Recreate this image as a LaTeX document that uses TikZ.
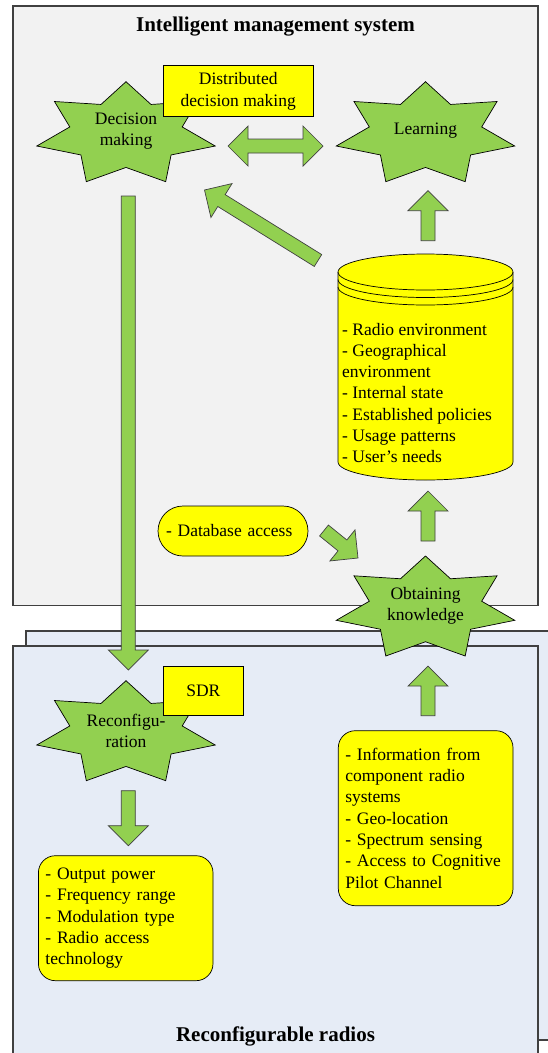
\documentclass[tikz,border=0pt]{standalone}
\usepackage{fontspec}
\setmainfont{Liberation Serif}
\usetikzlibrary{calc}
\definecolor{leaf}{HTML}{92D050}
\definecolor{lemon}{HTML}{FFFF00}
\definecolor{greybox}{HTML}{F2F2F2}
\definecolor{bluebox}{HTML}{E6ECF6}
\definecolor{rim}{HTML}{404040}
% seven pointed star round a named coordinate
\newcommand{\sevenstar}[1]{%
  \filldraw[starfill, shift={(#1)}] plot[samples at={0,...,13}]
    ({(0.815+0.185*cos(\x*180))*91.5*cos(-90+\x*360/14)},
     {(0.815+0.185*cos(\x*180))*52.6*sin(-90+\x*360/14)}) -- cycle;}
% block arrow from #1 to #2
\newcommand{\blockarrow}[2]{%
  \coordinate (hb) at ($(#2)!20pt!(#1)$);
  \filldraw[arrowfill] ($(#1)!7pt!90:(#2)$) -- ($(hb)!7pt!90:(#2)$) -- ($(hb)!20pt!90:(#2)$) -- (#2)
    -- ($(hb)!20pt!-90:(#2)$) -- ($(hb)!7pt!-90:(#2)$) -- ($(#1)!7pt!-90:(#2)$) -- cycle;}
\newcommand{\twinarrow}[2]{%
  \coordinate (ha) at ($(#1)!20pt!(#2)$);
  \coordinate (hb) at ($(#2)!20pt!(#1)$);
  \filldraw[arrowfill] (#1) -- ($(ha)!20pt!90:(#2)$) -- ($(ha)!7pt!90:(#2)$) -- ($(hb)!7pt!90:(#2)$)
    -- ($(hb)!20pt!90:(#2)$) -- (#2) -- ($(hb)!20pt!-90:(#2)$) -- ($(hb)!7pt!-90:(#2)$)
    -- ($(ha)!7pt!-90:(#2)$) -- ($(ha)!20pt!-90:(#2)$) -- cycle;}
\begin{document}
\begin{tikzpicture}[x=1pt, y=-1pt, font=\fontsize{17.5}{21.3}\selectfont,
  starfill/.style={fill=leaf, draw=black, line width=0.7pt},
  arrowfill/.style={fill=leaf, draw=rim, line width=0.7pt},
  notebox/.style={draw=black, fill=lemon, line width=0.7pt, align=center},
  listbox/.style={draw=black, fill=lemon, line width=0.7pt, align=left, rounded corners=17pt, inner xsep=7pt},
  panel/.style={draw=rim, line width=1.2pt},
  heading/.style={font=\fontsize{21}{25}\selectfont\bfseries, anchor=base}]
  \clip (0,0) rectangle (548,1053);
  % panels
  \filldraw[panel, fill=bluebox] (26,631) rectangle (570,1040);
  \filldraw[panel, fill=bluebox] (13,646) rectangle (538,1070);
  \filldraw[panel, fill=greybox] (13,6) rectangle (538,605.7);
  \node[heading] (ims) at (275.5,31) {Intelligent management system};
  \node[heading] (rr) at (275.5,1041.5) {Reconfigurable radios};
  % stars
  \coordinate (dmc) at (126,134.3);
  \coordinate (lnc) at (425.5,134.3);
  \coordinate (okc) at (425.5,608.6);
  \coordinate (rcc) at (126,733.3);
  \foreach \c in {dmc,lnc,okc,rcc} \sevenstar{\c};
  \node[align=center] (dm) at (126,131) {Decision\\making};
  \node (ln) at (425.5,131) {Learning};
  \node[align=center] (ok) at (425.5,606) {Obtaining\\knowledge};
  \node[align=center] (rc) at (126,731) {Reconfigu-\\ration};
  \node[notebox, minimum width=150.5pt, minimum height=51pt] (ddm) at (238.25,91.2) {Distributed\\decision making};
  \node[notebox, minimum width=80.6pt, minimum height=49.7pt] (sdr) at (203.3,690.85) {SDR};
  % database
  \filldraw[fill=lemon, draw=black, line width=0.7pt] (338,272) -- (338,462)
    arc[start angle=180, end angle=360, x radius=87.5pt, y radius=18pt] -- (513,272)
    arc[start angle=0, end angle=180, x radius=87.5pt, y radius=18pt] -- cycle;
  \foreach \d in {0,7.5,15}
    \draw[line width=0.7pt] (338,{272+\d}) arc[start angle=180, end angle=360, x radius=87.5pt, y radius=18pt];
  \node[anchor=west, align=left, inner sep=0pt] (db) at (342,393)
    {- Radio environment\\- Geographical\\environment\\- Internal state\\- Established policies\\- Usage patterns\\- User’s needs};
  \node[listbox, rounded corners=25pt, text width=134pt, inner xsep=8pt, minimum height=50pt] (dba) at (233,531) {- Database access};
  \node[listbox, text width=160.7pt, minimum height=175pt] (info) at (425.65,818.2)
    {- Information from\\component radio\\systems\\- Geo-location\\- Spectrum sensing\\- Access to Cognitive\\Pilot Channel};
  \node[listbox, text width=160.6pt, minimum height=125pt] (out) at (125.7,918.2)
    {- Output power\\- Frequency range\\- Modulation type\\- Radio access\\technology};
  % arrows
  \coordinate (dmE) at (228,146); \coordinate (lnW) at (323,146);
  \coordinate (dmS) at (128.3,196); \coordinate (rcN) at (128.3,670);
  \coordinate (dbW) at (318,260.5); \coordinate (dmSE) at (204.5,190);
  \coordinate (dbN) at (428,240.7); \coordinate (lnS) at (428,190.7);
  \coordinate (okN) at (428,541); \coordinate (dbS) at (428,491);
  \coordinate (dbaE) at (324,530.5); \coordinate (okW) at (358,558);
  \coordinate (infoN) at (428,715.7); \coordinate (okS) at (428,666);
  \coordinate (rcS) at (128.3,790.7); \coordinate (outN) at (128.3,845.7);
  \twinarrow{dmE}{lnW}
  \blockarrow{dmS}{rcN}
  \blockarrow{dbW}{dmSE}
  \blockarrow{dbN}{lnS}
  \blockarrow{okN}{dbS}
  \blockarrow{dbaE}{okW}
  \blockarrow{infoN}{okS}
  \blockarrow{rcS}{outN}
\end{tikzpicture}
\end{document}
